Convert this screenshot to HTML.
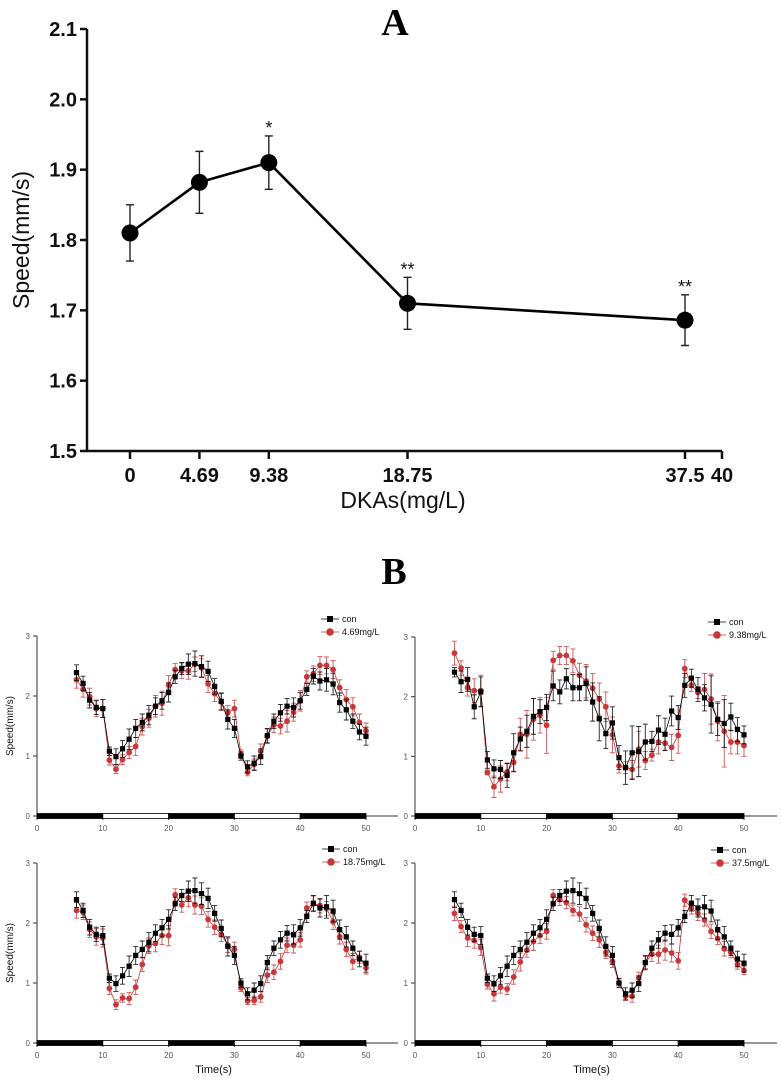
<!DOCTYPE html>
<html><head><meta charset="utf-8">
<style>
html,body{margin:0;padding:0;background:#fff;}
svg{display:block;}
</style></head>
<body>
<svg id="fig" width="781" height="1084" viewBox="0 0 781 1084" xmlns="http://www.w3.org/2000/svg" font-family="Liberation Sans, Arial, sans-serif"></svg>
<script>
// ---- Panel A data ----
const aDoses = [0, 4.69, 9.38, 18.75, 37.5];
const aSpeed = [1.81, 1.882, 1.91, 1.71, 1.686];
const aErr = [0.04, 0.044, 0.038, 0.037, 0.036];
const aStars = ["", "", "*", "**", "**"];
const aYTicks = [1.5, 1.6, 1.7, 1.8, 1.9, 2.0, 2.1];
const aXTickVals = [0, 4.69, 9.38, 18.75, 37.5, 40];
const aXTickLabels = ["0", "4.69", "9.38", "18.75", "37.5", "40"];

// ---- Panel B data ----
const bTime = [6,7,8,9,10,11,12,13,14,15,16,17,18,19,20,21,22,23,24,25,26,27,28,29,30,31,32,33,34,35,36,37,38,39,40,41,42,43,44,45,46,47,48,49,50];
const conMain = [2.39,2.21,1.93,1.81,1.79,1.08,0.99,1.12,1.28,1.46,1.56,1.68,1.83,1.92,2.06,2.32,2.46,2.53,2.54,2.49,2.41,2.16,1.91,1.61,1.46,1.0,0.82,0.88,0.99,1.34,1.58,1.72,1.83,1.81,1.92,2.11,2.33,2.25,2.27,2.2,1.89,1.77,1.58,1.4,1.33];
const conMainErr = [0.13,0.12,0.13,0.12,0.15,0.07,0.13,0.14,0.17,0.15,0.14,0.16,0.14,0.14,0.16,0.11,0.1,0.17,0.21,0.18,0.17,0.13,0.14,0.16,0.15,0.07,0.1,0.12,0.13,0.12,0.12,0.14,0.13,0.16,0.14,0.1,0.13,0.15,0.19,0.18,0.16,0.17,0.12,0.13,0.15];
const dose469 = [2.27,2.11,1.99,1.79,1.79,0.93,0.78,0.94,1.06,1.16,1.49,1.63,1.83,1.88,2.18,2.44,2.42,2.42,2.53,2.47,2.2,2.04,1.9,1.72,1.79,1.03,0.73,0.86,1.08,1.33,1.52,1.5,1.58,1.73,1.92,2.32,2.37,2.51,2.51,2.44,2.14,1.94,1.82,1.56,1.42];
const dose469Err = [0.14,0.13,0.14,0.13,0.15,0.08,0.07,0.08,0.1,0.15,0.14,0.15,0.18,0.2,0.16,0.1,0.13,0.14,0.12,0.15,0.14,0.13,0.14,0.12,0.14,0.07,0.06,0.09,0.12,0.12,0.13,0.13,0.18,0.15,0.17,0.1,0.13,0.15,0.14,0.15,0.13,0.17,0.15,0.14,0.13];
const conB = [2.41,2.25,2.29,1.83,2.08,0.94,0.79,0.78,0.68,1.06,1.29,1.42,1.67,1.75,1.82,2.18,2.08,2.3,2.15,2.15,2.22,1.91,1.63,1.38,1.56,0.98,0.81,1.06,1.08,1.24,1.25,1.44,1.37,1.76,1.65,2.19,2.31,2.12,1.98,1.87,1.62,1.55,1.66,1.45,1.36];
const conBErr = [0.08,0.18,0.2,0.2,0.25,0.14,0.15,0.15,0.2,0.32,0.2,0.27,0.3,0.2,0.22,0.25,0.2,0.17,0.22,0.22,0.28,0.32,0.37,0.25,0.27,0.2,0.28,0.45,0.42,0.3,0.17,0.24,0.27,0.25,0.2,0.2,0.15,0.2,0.22,0.48,0.27,0.4,0.23,0.2,0.15];
const dose938 = [2.73,2.48,2.15,2.1,2.1,0.73,0.49,0.62,0.74,0.9,1.37,1.37,1.62,1.69,1.52,2.61,2.69,2.69,2.6,2.36,2.26,2.14,1.96,1.83,1.36,0.84,0.81,0.78,1.12,0.93,1.02,1.24,1.22,1.15,1.35,2.47,2.19,2.07,2.12,1.96,1.59,1.42,1.24,1.24,1.18];
const dose938Err = [0.2,0.12,0.14,0.2,0.26,0.04,0.18,0.22,0.15,0.15,0.27,0.4,0.35,0.3,0.47,0.15,0.15,0.15,0.2,0.2,0.28,0.25,0.27,0.25,0.3,0.12,0.1,0.15,0.3,0.15,0.1,0.2,0.12,0.22,0.3,0.15,0.1,0.1,0.27,0.42,0.33,0.6,0.2,0.2,0.18];
const dose1875 = [2.21,2.18,1.89,1.77,1.75,0.91,0.64,0.75,0.74,0.93,1.31,1.62,1.66,1.79,1.79,2.47,2.3,2.42,2.3,2.28,2.06,1.93,1.81,1.63,1.56,0.92,0.7,0.71,0.77,1.13,1.18,1.36,1.63,1.63,1.72,2.25,2.32,2.29,2.24,2.02,1.77,1.56,1.36,1.43,1.25];
const dose1875Err = [0.13,0.12,0.13,0.14,0.15,0.1,0.08,0.07,0.1,0.12,0.12,0.13,0.14,0.15,0.17,0.1,0.12,0.15,0.15,0.14,0.13,0.12,0.12,0.12,0.12,0.06,0.06,0.07,0.09,0.12,0.12,0.13,0.12,0.13,0.12,0.1,0.13,0.12,0.12,0.13,0.12,0.12,0.13,0.1,0.1];
const dose375 = [2.16,1.94,1.75,1.71,1.59,0.98,0.82,0.93,0.9,1.1,1.35,1.55,1.69,1.79,1.86,2.46,2.39,2.34,2.21,2.15,1.97,1.83,1.72,1.51,1.36,1.0,0.78,0.78,1.08,1.34,1.48,1.48,1.55,1.5,1.37,2.38,2.25,2.16,2.05,1.86,1.74,1.57,1.51,1.31,1.21];
const dose375Err = [0.12,0.1,0.14,0.13,0.13,0.08,0.12,0.1,0.09,0.12,0.15,0.12,0.15,0.13,0.13,0.1,0.1,0.1,0.09,0.12,0.12,0.12,0.13,0.1,0.1,0.08,0.07,0.1,0.1,0.1,0.12,0.15,0.17,0.15,0.14,0.1,0.1,0.12,0.1,0.12,0.1,0.12,0.09,0.08,0.07];
const bXTicks = [0,10,20,30,40,50];
const bYTicks = [0,1,2,3];
const lightBands = [[0,10,"dark"],[10,20,"light"],[20,30,"dark"],[30,40,"light"],[40,50,"dark"]];
const bLabels = ["4.69mg/L","9.38mg/L","18.75mg/L","37.5mg/L"];

const NS = "http://www.w3.org/2000/svg";
const svg = document.getElementById("fig");
function mk(tag, attrs, parent, text){
  const e = document.createElementNS(NS, tag);
  for (const k in attrs) e.setAttribute(k, attrs[k]);
  if (text !== undefined) e.textContent = text;
  (parent || svg).appendChild(e);
  return e;
}

// ================= Panel A =================
const gA = mk("g", {});


const A = {x0:130, x1:722, xmin:0, xmax:40, y0:451, y1:29, ymin:1.5, ymax:2.1, axisX:87};
const ax = v => A.x0 + (v - A.xmin) / (A.xmax - A.xmin) * (A.x1 - A.x0);
const ay = v => A.y0 - (v - A.ymin) / (A.ymax - A.ymin) * (A.y0 - A.y1);

let t = mk("text", {x:395, y:35, "text-anchor":"middle", "font-family":"Liberation Serif, serif", "font-weight":"bold", "font-size":"38"}, gA, "A");



let axl = mk("path", {d:`M${A.axisX},${A.y1} V${A.y0} H${A.x1}`, stroke:"#111", "stroke-width":"2.5", fill:"none"}, gA);



aYTicks.forEach(v => {
  const y = ay(v);
  mk("line", {x1:A.axisX-7, x2:A.axisX, y1:y, y2:y, stroke:"#111", "stroke-width":"2.5"}, gA);
  const tl = mk("text", {x:A.axisX-10, y:y+7, "text-anchor":"end", "font-weight":"bold", "font-size":"20", fill:"#111"}, gA, v.toFixed(1));
  
  
});
aXTickVals.forEach((v, i) => {
  const x = ax(v);
  mk("line", {x1:x, x2:x, y1:A.y0, y2:A.y0+8, stroke:"#111", "stroke-width":"2.5"}, gA);
  const tl = mk("text", {x:x, y:A.y0+31, "text-anchor":"middle", "font-weight":"bold", "font-size":"20", fill:"#111"}, gA, aXTickLabels[i]);
  
  
});
t = mk("text", {x:29, y:240, transform:"rotate(-90 29 240)", "text-anchor":"middle", "font-size":"23", fill:"#111"}, gA, "Speed(mm/s)");


t = mk("text", {x:403, y:508, "text-anchor":"middle", "font-size":"23", fill:"#111"}, gA, "DKAs(mg/L)");



let lp = aDoses.map((d,i)=>`${i?'L':'M'}${ax(d).toFixed(1)},${ay(aSpeed[i]).toFixed(1)}`).join(" ");
let ln = mk("path", {d:lp, stroke:"#000", "stroke-width":"2.6", fill:"none"}, gA);


aDoses.forEach((d,i) => {
  const x = ax(d), yt = ay(aSpeed[i]+aErr[i]), yb = ay(aSpeed[i]-aErr[i]);
  const eb = mk("path", {d:`M${x},${yt} V${yb} M${x-4},${yt} H${x+4} M${x-4},${yb} H${x+4}`, stroke:"#222", "stroke-width":"1.4", fill:"none"}, gA);
  
  
  const c = mk("circle", {cx:x, cy:ay(aSpeed[i]), r:8.5, fill:"#000"}, gA);
  
  
  if (aStars[i]) {
    const s = mk("text", {x:x, y:yt-2, "text-anchor":"middle", "font-size":"18", fill:"#111"}, gA, aStars[i]);
    
    
  }
});

// ================= Panel B =================
t = mk("text", {x:394, y:584, "text-anchor":"middle", "font-family":"Liberation Serif, serif", "font-weight":"bold", "font-size":"38"}, svg, "B");



const subs = [
  {x0:37, x1:366, y0:816, y1:636, axEnd:398, con:conMain, conErr:conMainErr, red:dose469, redErr:dose469Err, leg:[330,619], ytitle:true, xtitle:false},
  {x0:415, x1:744, y0:816, y1:637, axEnd:777, con:conB, conErr:conBErr, red:dose938, redErr:dose938Err, leg:[717,622], ytitle:false, xtitle:false},
  {x0:37, x1:366, y0:1043, y1:863, axEnd:398, con:conMain, conErr:conMainErr, red:dose1875, redErr:dose1875Err, leg:[331,849], ytitle:true, xtitle:true},
  {x0:415, x1:744, y0:1043, y1:863, axEnd:777, con:conMain, conErr:conMainErr, red:dose375, redErr:dose375Err, leg:[720,850], ytitle:false, xtitle:true}
];
const RED = "#c8383a";
subs.forEach((S, si) => {
  const g = mk("g", {});
  
  
  const sx = v => S.x0 + v/50*(S.x1-S.x0);
  const sy = v => S.y0 - v/3*(S.y0-S.y1);
  // axes
  const a = mk("path", {d:`M${S.x0},${S.y1} V${S.y0} H${S.axEnd}`, stroke:"#333", "stroke-width":"1", fill:"none"}, g);
  
  
  bYTicks.forEach(v => {
    mk("line", {x1:S.x0-4, x2:S.x0, y1:sy(v), y2:sy(v), stroke:"#333", "stroke-width":"1"}, g);
    const tl = mk("text", {x:S.x0-7, y:sy(v)+3, "text-anchor":"end", "font-size":"8", fill:"#555"}, g, String(v));
    
    
  });
  bXTicks.forEach(v => {
    mk("line", {x1:sx(v), x2:sx(v), y1:S.y0, y2:S.y0+4, stroke:"#333", "stroke-width":"1"}, g);
    const tl = mk("text", {x:sx(v), y:S.y0+15, "text-anchor":"middle", "font-size":"8", fill:"#555"}, g, String(v));
    
    
  });
  lightBands.forEach(b => {
    const r = mk("rect", {x:sx(b[0]), y:S.y0-2.5, width:sx(b[1])-sx(b[0]), height:5, fill:b[2]==="dark"?"#000":"#fff", stroke:"#000", "stroke-width":"0.8"}, g);
    
    
  });
  if (S.ytitle) {
    const yt = mk("text", {x:13, y:(S.y0+S.y1)/2, transform:`rotate(-90 13 ${(S.y0+S.y1)/2})`, "text-anchor":"middle", "font-size":"10", fill:"#111"}, g, "Speed(mm/s)");
    
    
  }
  if (S.xtitle) {
    const xt = mk("text", {x:(S.x0+S.x1)/2+12, y:1073, "text-anchor":"middle", "font-size":"11", fill:"#111"}, g, "Time(s)");
    
    
  }
  // series
  const drawSeries = (vals, errs, color, shape, name) => {
    const sg = mk("g", {}, g);
    
    
    vals.forEach((v,i) => {
      const x = sx(bTime[i]), yt = sy(v+errs[i]), yb = sy(v-errs[i]);
      const e = mk("path", {d:`M${x},${yt} V${yb} M${x-2.5},${yt} H${x+2.5} M${x-2.5},${yb} H${x+2.5}`, stroke:color, "stroke-width":"0.9", fill:"none", opacity:"0.85"}, sg);
      
      
    });
    const d = vals.map((v,i)=>`${i?'L':'M'}${sx(bTime[i]).toFixed(1)},${sy(v).toFixed(1)}`).join(" ");
    const l = mk("path", {d:d, stroke:color, "stroke-width":"0.8", fill:"none"}, sg);
    
    
    vals.forEach((v,i) => {
      const x = sx(bTime[i]), y = sy(v);
      let m;
      if (shape === "sq") m = mk("rect", {x:x-2.6, y:y-2.6, width:5.2, height:5.2, fill:color}, sg);
      else m = mk("circle", {cx:x, cy:y, r:2.9, fill:color}, sg);
      
      
    });
  };
  drawSeries(S.red, S.redErr, RED, "circ", "treatment");
  drawSeries(S.con, S.conErr, "#000", "sq", "control");
  // legend
  const lg = mk("g", {}, g);
  
  
  const [lx, ly] = S.leg;
  const e1 = mk("g", {}, lg);
  
  
  mk("line", {x1:lx-9, x2:lx+9, y1:ly, y2:ly, stroke:"#000", "stroke-width":"0.8"}, e1);
  mk("rect", {x:lx-3, y:ly-3, width:6, height:6, fill:"#000"}, e1);
  mk("text", {x:lx+12, y:ly+3, "font-size":"9", fill:"#111"}, e1, "con");
  const e2 = mk("g", {}, lg);
  
  
  mk("line", {x1:lx-9, x2:lx+9, y1:ly+13, y2:ly+13, stroke:RED, "stroke-width":"0.8"}, e2);
  mk("circle", {cx:lx, cy:ly+13, r:3.8, fill:RED}, e2);
  mk("text", {x:lx+12, y:ly+16, "font-size":"9", fill:"#111"}, e2, bLabels[si]);
});
</script>
</body></html>
